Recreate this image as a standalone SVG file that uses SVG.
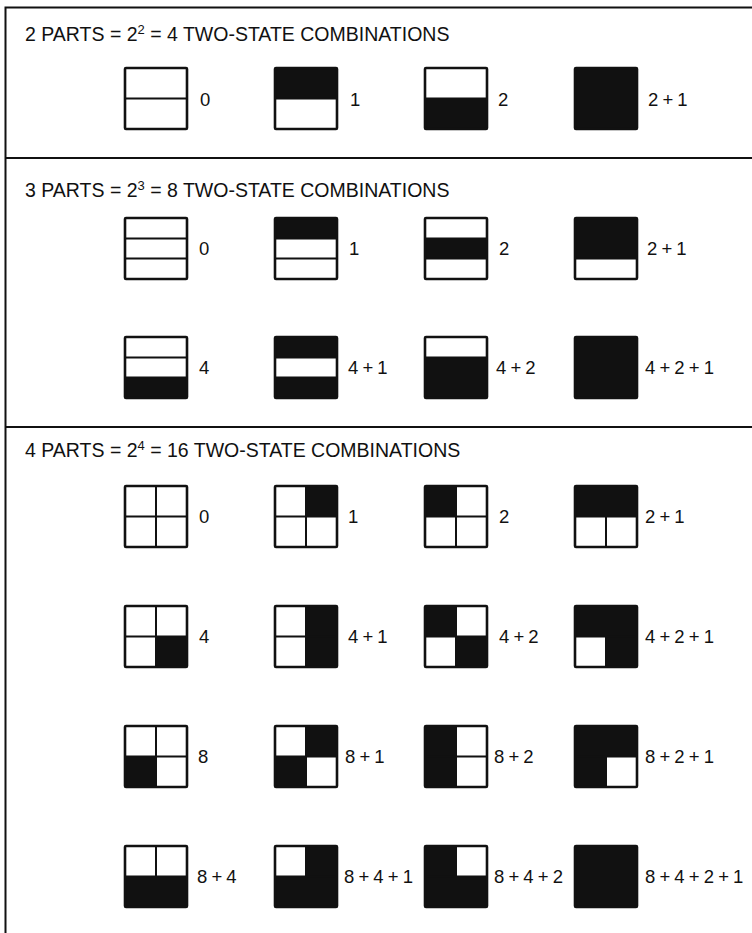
<svg xmlns="http://www.w3.org/2000/svg" width="752" height="933" viewBox="0 0 752 933">
<style>
.bg{fill:#fff}
.on{fill:#111}
.div{stroke:#111;stroke-width:2;fill:none}
.out{stroke:#111;stroke-width:2.6;fill:none}
.frame{stroke:#111;stroke-width:2;fill:none}
.title{font-family:"Liberation Sans",Arial,sans-serif;font-size:19.5px;fill:#111}
.sup{font-size:13px}
.lbl{font-family:"Liberation Sans",Arial,sans-serif;font-size:18.5px;fill:#111;word-spacing:-1px}
</style>
<rect width="752" height="933" fill="#fff"/>
<g id="frame">
<path class="frame" d="M5.5,933 V7.5 H752"/>
<path class="frame" d="M5.5,158 H752"/>
<path class="frame" d="M5.5,427 H752"/>
</g>
<g id="titles">
<text class="title" x="25" y="41">2 PARTS = 2<tspan class="sup" dy="-7">2</tspan><tspan dy="7"> = 4 TWO-STATE COMBINATIONS</tspan></text>
<text class="title" x="25" y="197">3 PARTS = 2<tspan class="sup" dy="-7">3</tspan><tspan dy="7"> = 8 TWO-STATE COMBINATIONS</tspan></text>
<text class="title" x="25" y="457">4 PARTS = 2<tspan class="sup" dy="-7">4</tspan><tspan dy="7"> = 16 TWO-STATE COMBINATIONS</tspan></text>
</g>

<!-- Section 1: 2 parts -->
<g id="s1-0"><rect class="bg" x="125" y="68" width="62" height="61"/><path class="div" d="M125,98.5 H187"/><rect class="out" x="125" y="68" width="62" height="61" rx="1"/><text class="lbl" x="200" y="106">0</text></g>
<g id="s1-1"><rect class="bg" x="275" y="68" width="62" height="61"/><rect class="on" x="275" y="68" width="62" height="30.5"/><path class="div" d="M275,98.5 H337"/><rect class="out" x="275" y="68" width="62" height="61" rx="1"/><text class="lbl" x="350" y="106">1</text></g>
<g id="s1-2"><rect class="bg" x="425" y="68" width="62" height="61"/><rect class="on" x="425" y="98.5" width="62" height="30.5"/><path class="div" d="M425,98.5 H487"/><rect class="out" x="425" y="68" width="62" height="61" rx="1"/><text class="lbl" x="498" y="106">2</text></g>
<g id="s1-3"><rect class="on" x="575" y="68" width="62" height="61"/><rect class="out" x="575" y="68" width="62" height="61" rx="1"/><text class="lbl" x="648" y="106">2 + 1</text></g>

<!-- Section 2: 3 parts, row 1 -->
<g id="s2-0"><rect class="bg" x="125" y="218" width="62" height="61"/><path class="div" d="M125,238.5 H187 M125,258.5 H187"/><rect class="out" x="125" y="218" width="62" height="61" rx="1"/><text class="lbl" x="199" y="255">0</text></g>
<g id="s2-1"><rect class="bg" x="275" y="218" width="62" height="61"/><rect class="on" x="275" y="218" width="62" height="20.5"/><path class="div" d="M275,238.5 H337 M275,258.5 H337"/><rect class="out" x="275" y="218" width="62" height="61" rx="1"/><text class="lbl" x="349" y="255">1</text></g>
<g id="s2-2"><rect class="bg" x="425" y="218" width="62" height="61"/><rect class="on" x="425" y="238.5" width="62" height="20"/><path class="div" d="M425,238.5 H487 M425,258.5 H487"/><rect class="out" x="425" y="218" width="62" height="61" rx="1"/><text class="lbl" x="499" y="255">2</text></g>
<g id="s2-3"><rect class="bg" x="575" y="218" width="62" height="61"/><rect class="on" x="575" y="218" width="62" height="40.5"/><path class="div" d="M575,258.5 H637"/><rect class="out" x="575" y="218" width="62" height="61" rx="1"/><text class="lbl" x="647" y="255">2 + 1</text></g>
<!-- Section 2: row 2 -->
<g id="s2-4"><rect class="bg" x="125" y="337" width="62" height="61"/><rect class="on" x="125" y="377.5" width="62" height="20.5"/><path class="div" d="M125,357.5 H187 M125,377.5 H187"/><rect class="out" x="125" y="337" width="62" height="61" rx="1"/><text class="lbl" x="199" y="374">4</text></g>
<g id="s2-5"><rect class="bg" x="275" y="337" width="62" height="61"/><rect class="on" x="275" y="337" width="62" height="20.5"/><rect class="on" x="275" y="377.5" width="62" height="20.5"/><path class="div" d="M275,357.5 H337 M275,377.5 H337"/><rect class="out" x="275" y="337" width="62" height="61" rx="1"/><text class="lbl" x="348" y="374">4 + 1</text></g>
<g id="s2-6"><rect class="bg" x="425" y="337" width="62" height="61"/><rect class="on" x="425" y="357.5" width="62" height="40.5"/><path class="div" d="M425,357.5 H487"/><rect class="out" x="425" y="337" width="62" height="61" rx="1"/><text class="lbl" x="496" y="374">4 + 2</text></g>
<g id="s2-7"><rect class="on" x="575" y="337" width="62" height="61"/><rect class="out" x="575" y="337" width="62" height="61" rx="1"/><text class="lbl" x="645" y="374">4 + 2 + 1</text></g>

<!-- Section 3: 4 parts. TL=2, TR=1, BL=8, BR=4 -->
<!-- row 1 y=486 -->
<g id="s3-0"><rect class="bg" x="125" y="486" width="62" height="61"/><path class="div" d="M156,486 V547 M125,516.5 H187"/><rect class="out" x="125" y="486" width="62" height="61" rx="1"/><text class="lbl" x="199" y="523">0</text></g>
<g id="s3-1"><rect class="bg" x="275" y="486" width="62" height="61"/><rect class="on" x="306" y="486" width="31" height="30.5"/><path class="div" d="M306,486 V547 M275,516.5 H337"/><rect class="out" x="275" y="486" width="62" height="61" rx="1"/><text class="lbl" x="348" y="523">1</text></g>
<g id="s3-2"><rect class="bg" x="425" y="486" width="62" height="61"/><rect class="on" x="425" y="486" width="31" height="30.5"/><path class="div" d="M456,486 V547 M425,516.5 H487"/><rect class="out" x="425" y="486" width="62" height="61" rx="1"/><text class="lbl" x="499" y="523">2</text></g>
<g id="s3-3"><rect class="bg" x="575" y="486" width="62" height="61"/><rect class="on" x="575" y="486" width="62" height="30.5"/><path class="div" d="M606,486 V547 M575,516.5 H637"/><rect class="out" x="575" y="486" width="62" height="61" rx="1"/><text class="lbl" x="645" y="523">2 + 1</text></g>
<!-- row 2 y=606 -->
<g id="s3-4"><rect class="bg" x="125" y="606" width="62" height="61"/><rect class="on" x="156" y="636.5" width="31" height="30.5"/><path class="div" d="M156,606 V667 M125,636.5 H187"/><rect class="out" x="125" y="606" width="62" height="61" rx="1"/><text class="lbl" x="199" y="643">4</text></g>
<g id="s3-5"><rect class="bg" x="275" y="606" width="62" height="61"/><rect class="on" x="306" y="606" width="31" height="61"/><path class="div" d="M306,606 V667 M275,636.5 H337"/><rect class="out" x="275" y="606" width="62" height="61" rx="1"/><text class="lbl" x="348" y="643">4 + 1</text></g>
<g id="s3-6"><rect class="bg" x="425" y="606" width="62" height="61"/><rect class="on" x="425" y="606" width="31" height="30.5"/><rect class="on" x="456" y="636.5" width="31" height="30.5"/><path class="div" d="M456,606 V667 M425,636.5 H487"/><rect class="out" x="425" y="606" width="62" height="61" rx="1"/><text class="lbl" x="499" y="643">4 + 2</text></g>
<g id="s3-7"><rect class="bg" x="575" y="606" width="62" height="61"/><rect class="on" x="575" y="606" width="62" height="30.5"/><rect class="on" x="606" y="636.5" width="31" height="30.5"/><path class="div" d="M606,606 V667 M575,636.5 H637"/><rect class="out" x="575" y="606" width="62" height="61" rx="1"/><text class="lbl" x="645" y="643">4 + 2 + 1</text></g>
<!-- row 3 y=726 -->
<g id="s3-8"><rect class="bg" x="125" y="726" width="62" height="61"/><rect class="on" x="125" y="756.5" width="31" height="30.5"/><path class="div" d="M156,726 V787 M125,756.5 H187"/><rect class="out" x="125" y="726" width="62" height="61" rx="1"/><text class="lbl" x="198" y="763">8</text></g>
<g id="s3-9"><rect class="bg" x="275" y="726" width="62" height="61"/><rect class="on" x="306" y="726" width="31" height="30.5"/><rect class="on" x="275" y="756.5" width="31" height="30.5"/><path class="div" d="M306,726 V787 M275,756.5 H337"/><rect class="out" x="275" y="726" width="62" height="61" rx="1"/><text class="lbl" x="345" y="763">8 + 1</text></g>
<g id="s3-10"><rect class="bg" x="425" y="726" width="62" height="61"/><rect class="on" x="425" y="726" width="31" height="61"/><path class="div" d="M456,726 V787 M425,756.5 H487"/><rect class="out" x="425" y="726" width="62" height="61" rx="1"/><text class="lbl" x="494" y="763">8 + 2</text></g>
<g id="s3-11"><rect class="bg" x="575" y="726" width="62" height="61"/><rect class="on" x="575" y="726" width="62" height="30.5"/><rect class="on" x="575" y="756.5" width="31" height="30.5"/><path class="div" d="M606,726 V787 M575,756.5 H637"/><rect class="out" x="575" y="726" width="62" height="61" rx="1"/><text class="lbl" x="645" y="763">8 + 2 + 1</text></g>
<!-- row 4 y=846 -->
<g id="s3-12"><rect class="bg" x="125" y="846" width="62" height="61"/><rect class="on" x="125" y="876.5" width="62" height="30.5"/><path class="div" d="M156,846 V907 M125,876.5 H187"/><rect class="out" x="125" y="846" width="62" height="61" rx="1"/><text class="lbl" x="197" y="883">8 + 4</text></g>
<g id="s3-13"><rect class="bg" x="275" y="846" width="62" height="61"/><rect class="on" x="306" y="846" width="31" height="30.5"/><rect class="on" x="275" y="876.5" width="62" height="30.5"/><path class="div" d="M306,846 V907 M275,876.5 H337"/><rect class="out" x="275" y="846" width="62" height="61" rx="1"/><text class="lbl" x="344" y="883">8 + 4 + 1</text></g>
<g id="s3-14"><rect class="bg" x="425" y="846" width="62" height="61"/><rect class="on" x="425" y="846" width="31" height="30.5"/><rect class="on" x="425" y="876.5" width="62" height="30.5"/><path class="div" d="M456,846 V907 M425,876.5 H487"/><rect class="out" x="425" y="846" width="62" height="61" rx="1"/><text class="lbl" x="494" y="883">8 + 4 + 2</text></g>
<g id="s3-15"><rect class="on" x="575" y="846" width="62" height="61"/><rect class="out" x="575" y="846" width="62" height="61" rx="1"/><text class="lbl" x="645" y="883">8 + 4 + 2 + 1</text></g>
</svg>
